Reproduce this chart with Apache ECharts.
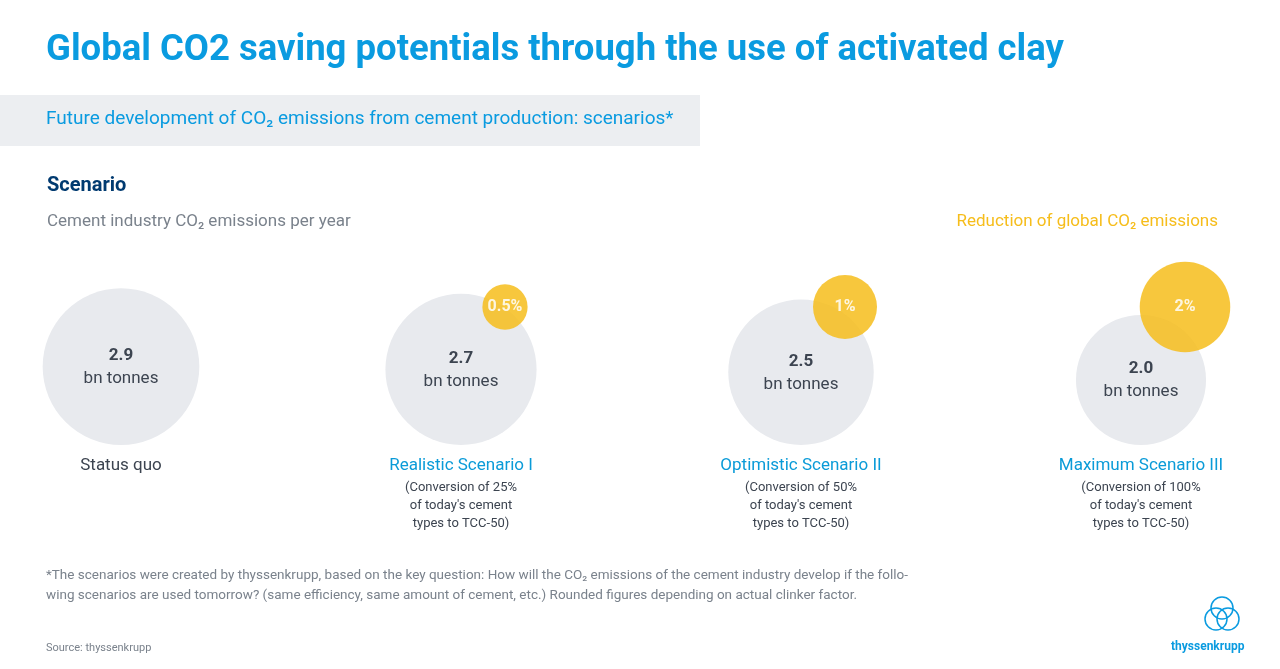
<!DOCTYPE html>
<html>
<head>
<meta charset="UTF-8">
<script src="https://cdn.jsdelivr.net/npm/echarts@6/dist/echarts.min.js"></script>
<style>html,body{margin:0;height:100%;background:#fff}#c{width:1280px;height:669px}</style>
</head>
<body>
<div id="c"></div>
<script>
var scenarios = ['Status quo', 'Realistic Scenario I', 'Optimistic Scenario II', 'Maximum Scenario III'];
var notes = ['', '(Conversion of 25%\nof today\'s cement\ntypes to TCC-50)', '(Conversion of 50%\nof today\'s cement\ntypes to TCC-50)', '(Conversion of 100%\nof today\'s cement\ntypes to TCC-50)'];
var emissions = [2.9, 2.7, 2.5, 2.0];
var reduction = [null, 0.5, 1, 2];

var chart = echarts.init(document.getElementById('c'));
var F = 'Roboto, "Liberation Sans", sans-serif';
function gSize(v) { return 92 * Math.sqrt(v); }
function ySize(v) { return 64 * Math.sqrt(v); }

chart.setOption({
  animation: false,
  textStyle: { fontFamily: F },
  grid: { left: -49, width: 1360, top: 100, bottom: 224, containLabel: false, outerBoundsMode: 'none' },
  xAxis: {
    type: 'category', data: scenarios,
    axisLine: { show: false }, axisTick: { show: false },
    axisLabel: {
      margin: 8, lineHeight: 18,
      formatter: function (v, i) {
        return (i === 0 ? '{d|' : '{b|') + v + '}' + (notes[i] ? '\n{s|' + notes[i].split('\n').join('}\n{s|') + '}' : '');
      },
      rich: {
        d: { fontSize: 17, color: '#3c4450', fontFamily: F, lineHeight: 26 },
        b: { fontSize: 17, color: '#0a9bd8', fontFamily: F, lineHeight: 26 },
        s: { fontSize: 13, color: '#3c4450', fontFamily: F, lineHeight: 18 }
      }
    }
  },
  yAxis: { type: 'value', min: 0, max: 1, show: false },
  series: [
    {
      type: 'scatter', z: 1,
      data: emissions.map(function (v) {
        var s = gSize(v);
        return { value: 0, symbolSize: s, symbolOffset: [0, -s / 2], raw: v };
      }),
      itemStyle: { color: '#e8eaee', opacity: 1 },
      label: {
        show: true, position: 'inside',
        formatter: function (p) { return '{v|' + p.data.raw.toFixed(1) + '}\n{u|bn tonnes}'; },
        rich: {
          v: { fontSize: 17, fontWeight: 'bold', color: '#3c4450', fontFamily: F, lineHeight: 24 },
          u: { fontSize: 17, color: '#3c4450', fontFamily: F, lineHeight: 22 }
        }
      }
    },
    {
      type: 'scatter', z: 2,
      data: reduction.map(function (v) {
        if (v == null) return null;
        return { value: 0, symbolSize: ySize(v), symbolOffset: [44, -138], raw: v };
      }),
      itemStyle: { color: '#f6bd1b', opacity: 0.85 },
      label: {
        show: true, position: 'inside', color: '#fff', fontSize: 16, fontWeight: 'bold', fontFamily: F,
        formatter: function (p) { return p.data.raw + '%'; }
      }
    }
  ],
  graphic: [
    { type: 'text', left: 46, top: 32, style: { text: 'Global CO2 saving potentials through the use of activated clay', fill: '#0a9be0', font: 'bold 36.5px ' + F } },
    { type: 'rect', shape: { x: 0, y: 95, width: 700, height: 51 }, style: { fill: '#eceef1' } },
    { type: 'text', left: 46, top: 110, style: { text: 'Future development of CO₂ emissions from cement production: scenarios*', fill: '#0a9be0', font: '19px ' + F } },
    { type: 'text', left: 47, top: 176, style: { text: 'Scenario', fill: '#003a70', font: 'bold 20px ' + F } },
    { type: 'text', left: 47, top: 213, style: { text: 'Cement industry CO₂ emissions per year', fill: '#7a828c', font: '17px ' + F } },
    { type: 'text', right: 62, top: 213, style: { text: 'Reduction of global CO₂ emissions', fill: '#f6bd1b', font: '17px ' + F } },
    { type: 'text', left: 46, top: 566, style: { text: '*The scenarios were created by thyssenkrupp, based on the key question: How will the CO₂ emissions of the cement industry develop if the follo-\nwing scenarios are used tomorrow? (same efficiency, same amount of cement, etc.) Rounded figures depending on actual clinker factor.', fill: '#7a828c', font: '13.5px ' + F, lineHeight: 20 } },
    { type: 'text', left: 46, top: 643, style: { text: 'Source: thyssenkrupp', fill: '#7a828c', font: '11px ' + F } },
    { type: 'circle', shape: { cx: 1222, cy: 608, r: 11 }, style: { fill: 'none', stroke: '#0a9be0', lineWidth: 1.5 } },
    { type: 'circle', shape: { cx: 1216, cy: 619, r: 11 }, style: { fill: 'none', stroke: '#0a9be0', lineWidth: 1.5 } },
    { type: 'circle', shape: { cx: 1228, cy: 619, r: 11 }, style: { fill: 'none', stroke: '#0a9be0', lineWidth: 1.5 } },
    { type: 'text', left: 1171, top: 641, style: { text: 'thyssenkrupp', fill: '#0a9be0', font: 'bold 12px ' + F } }
  ]
});
</script>
</body>
</html>
